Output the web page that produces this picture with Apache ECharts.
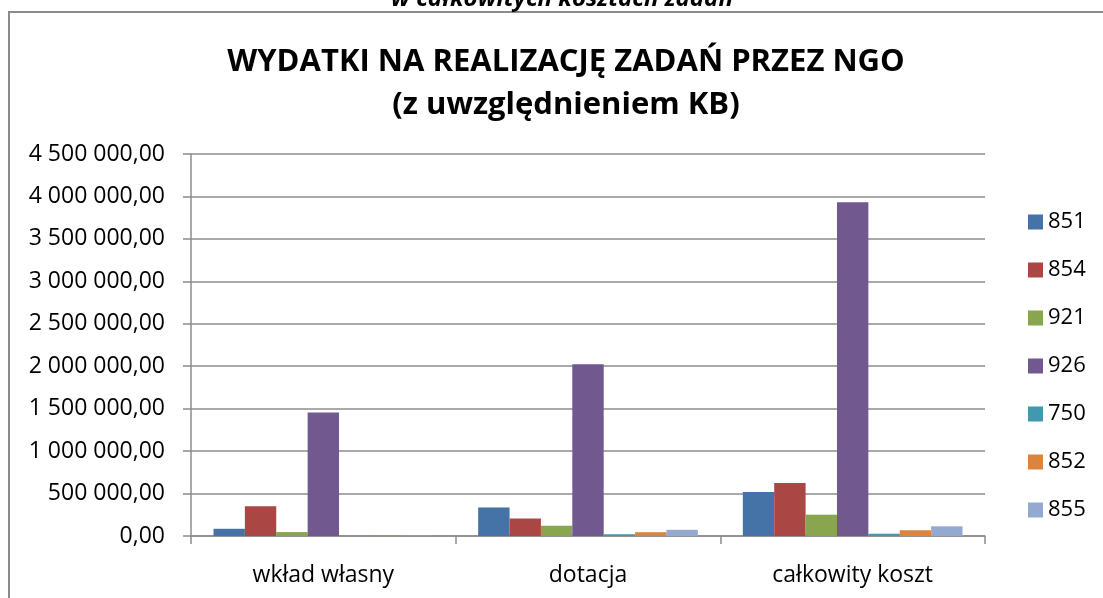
<!DOCTYPE html>
<html>
<head>
<meta charset="utf-8">
<script src="https://cdn.jsdelivr.net/npm/echarts@6/dist/echarts.min.js"></script>
<style>
  html, body { margin: 0; padding: 0; background: #fff; }
  #chart { width: 1103px; height: 598px; }
</style>
</head>
<body>
<div id="chart"></div>
<script>
// kategorie i wartości
const categories = ['wkład własny', 'dotacja', 'całkowity koszt'];
const seriesNames = ['851', '854', '921', '926', '750', '852', '855'];
const v851 = [85000, 336000, 519000];
const v854 = [350000, 206000, 625000];
const v921 = [46000, 120000, 251000];
const v926 = [1456000, 2023000, 3932000];
const v750 = [1000, 21000, 27000];
const v852 = [4000, 45000, 67000];
const v855 = [4000, 73000, 114000];
const yTicks = [0, 500000, 4500000]; // min, krok, max

const colors = ['#4572A7', '#AA4643', '#89A54E', '#71588F', '#4198AF', '#DB843D', '#93A9CF'];
const values = [v851, v854, v921, v926, v750, v852, v855];

const font = 'Open Sans';

function fmt(v) {
  // 4 500 000,00
  let s = Math.round(v).toString().replace(/\B(?=(\d{3})+(?!\d))/g, ' ');
  return s + ',00';
}

let chart = echarts.init(document.getElementById('chart'));
chart.setOption({
  animation: false,
  color: colors,
  textStyle: { fontFamily: font, color: '#000' },
  title: {
    text: 'WYDATKI NA REALIZACJĘ ZADAŃ PRZEZ NGO\n(z uwzględnieniem KB)',
    left: 561,
    top: 36,
    textAlign: 'center',
    textStyle: { fontFamily: font, fontWeight: 'bold', fontSize: 31, lineHeight: 43, color: '#000' }
  },
  graphic: [
    {
      type: 'rect',
      shape: { x: 9, y: 12, width: 1300, height: 800 },
      style: { fill: 'none', stroke: '#8c8c8c', lineWidth: 2 },
      z: -1
    },
    {
      type: 'text',
      x: 562,
      y: 11,
      style: {
        text: 'w całkowitych kosztach zadań',
        font: 'italic bold 24px "Open Sans"',
        fill: '#000',
        align: 'center',
        verticalAlign: 'bottom'
      }
    }
  ],
  legend: {
    orient: 'vertical',
    left: 1023,
    top: 206,
    icon: 'rect',
    itemWidth: 15,
    itemHeight: 15,
    itemGap: 26,
    textStyle: { fontFamily: font, fontSize: 22, lineHeight: 22, color: '#000' },
    data: seriesNames
  },
  grid: { left: 191, right: 118, top: 154, bottom: 62, containLabel: false },
  xAxis: {
    type: 'category',
    data: categories,
    axisLine: { lineStyle: { color: '#8c8c8c', width: 1.5 } },
    axisTick: { show: true, length: 8, lineStyle: { color: '#8c8c8c', width: 1.5 } },
    axisLabel: { fontFamily: font, fontSize: 23, color: '#000', margin: 28 }
  },
  yAxis: {
    type: 'value',
    min: yTicks[0],
    max: yTicks[2],
    interval: yTicks[1],
    axisLine: { show: true, lineStyle: { color: '#8c8c8c', width: 1.5 } },
    axisTick: { show: true, length: 8, lineStyle: { color: '#8c8c8c', width: 1.5 } },
    splitLine: { lineStyle: { color: '#8c8c8c', width: 1.5 } },
    axisLabel: { fontFamily: font, fontSize: 23, color: '#000', margin: 26, formatter: fmt }
  },
  series: seriesNames.map((name, i) => ({
    name: name,
    type: 'bar',
    data: values[i],
    barGap: '0%',
    barCategoryGap: '17%',
    itemStyle: { color: colors[i] }
  }))
});
</script>
</body>
</html>
